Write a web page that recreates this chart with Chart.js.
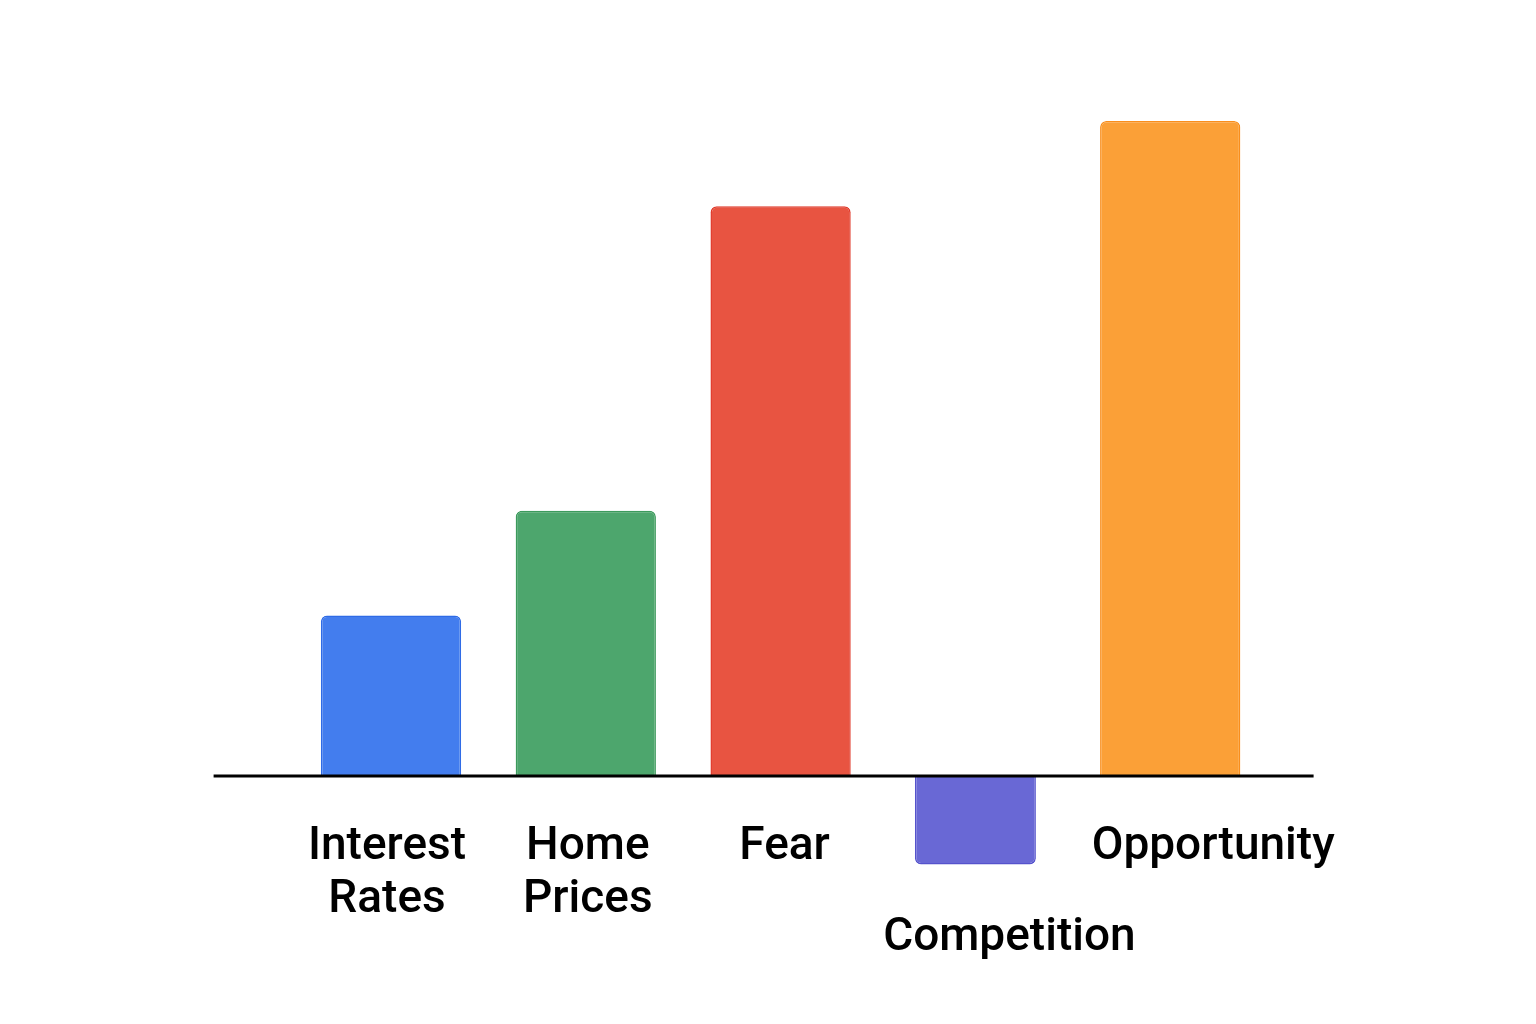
<!DOCTYPE html>
<html>
<head>
<meta charset="utf-8">
<script src="https://cdn.jsdelivr.net/npm/chart.js@4.4.1/dist/chart.umd.min.js"></script>
<style>
  html, body { margin: 0; padding: 0; background: #ffffff; }
  #wrap { width: 1536px; height: 1024px; }
</style>
</head>
<body>
<div id="wrap"><canvas id="grafiek" width="1536" height="1024"></canvas></div>
<script>
// Categories and values (impact score)
const categories = [["Interest", "Rates"], ["Home", "Prices"], ["Fear"], ["Competition"], ["Opportunity"]];
const values = [2.45, 4.05, 8.7, -1.35, 10];

// Bar colours
const barColors = ["#437DEE", "#4DA66D", "#E85441", "#6968D5", "#FBA037"];
const borderColors = ["#2F6BE6", "#3C9A5C", "#E0392A", "#5553CC", "#F98E1C"];

// Label placement relative to the bar (dx) and first line below zero (dy)
const labelShift = [-4, 2, 4, 34, 43];
const labelDrop = [83, 83, 83, 174, 83];

const ctx = document.getElementById("grafiek").getContext("2d");

// Negative bars are drawn a bit narrower, as in the picture
const positief = values.map(v => (v >= 0 ? v : null));
const negatief = values.map(v => (v < 0 ? v : null));

// Draws the zero line and the category labels
const baselinePlugin = {
  id: "baseline",
  afterDatasetsDraw(chart) {
    const c = chart.ctx;
    const area = chart.chartArea;
    const x = chart.scales.x;
    const y0 = chart.scales.y.getPixelForValue(0);

    c.save();
    c.strokeStyle = "#000000";
    c.lineWidth = 3;
    c.beginPath();
    c.moveTo(area.left - 80, y0);
    c.lineTo(area.right + 46, y0);
    c.stroke();

    c.fillStyle = "#000000";
    c.font = "500 46px Roboto";
    c.textAlign = "center";
    c.textBaseline = "alphabetic";
    categories.forEach((lines, i) => {
      const cx = x.getPixelForValue(i) + labelShift[i];
      lines.forEach((line, j) => {
        c.fillText(line, cx, y0 + labelDrop[i] + j * 53);
      });
    });
    c.restore();
  }
};

new Chart(ctx, {
  type: "bar",
  data: {
    labels: categories.map(l => l.join(" ")),
    datasets: [{
      data: positief,
      backgroundColor: barColors,
      borderColor: borderColors,
      borderWidth: 1.5,
      borderRadius: 6,
      barPercentage: 0.8,
      categoryPercentage: 0.9
    }, {
      data: negatief,
      backgroundColor: barColors,
      borderColor: borderColors,
      borderWidth: 1.5,
      borderRadius: 6,
      barPercentage: 0.69,
      categoryPercentage: 0.9
    }]
  },
  options: {
    responsive: false,
    devicePixelRatio: 1,
    animation: false,
    datasets: { bar: { grouped: false } },
    layout: {
      padding: { top: 55.5, bottom: 51.5, left: 293.6, right: 268.4 }
    },
    plugins: {
      legend: { display: false },
      tooltip: { enabled: false }
    },
    scales: {
      x: { display: false },
      y: { display: false, min: -3, max: 11 }
    }
  },
  plugins: [baselinePlugin]
});
</script>
</body>
</html>
